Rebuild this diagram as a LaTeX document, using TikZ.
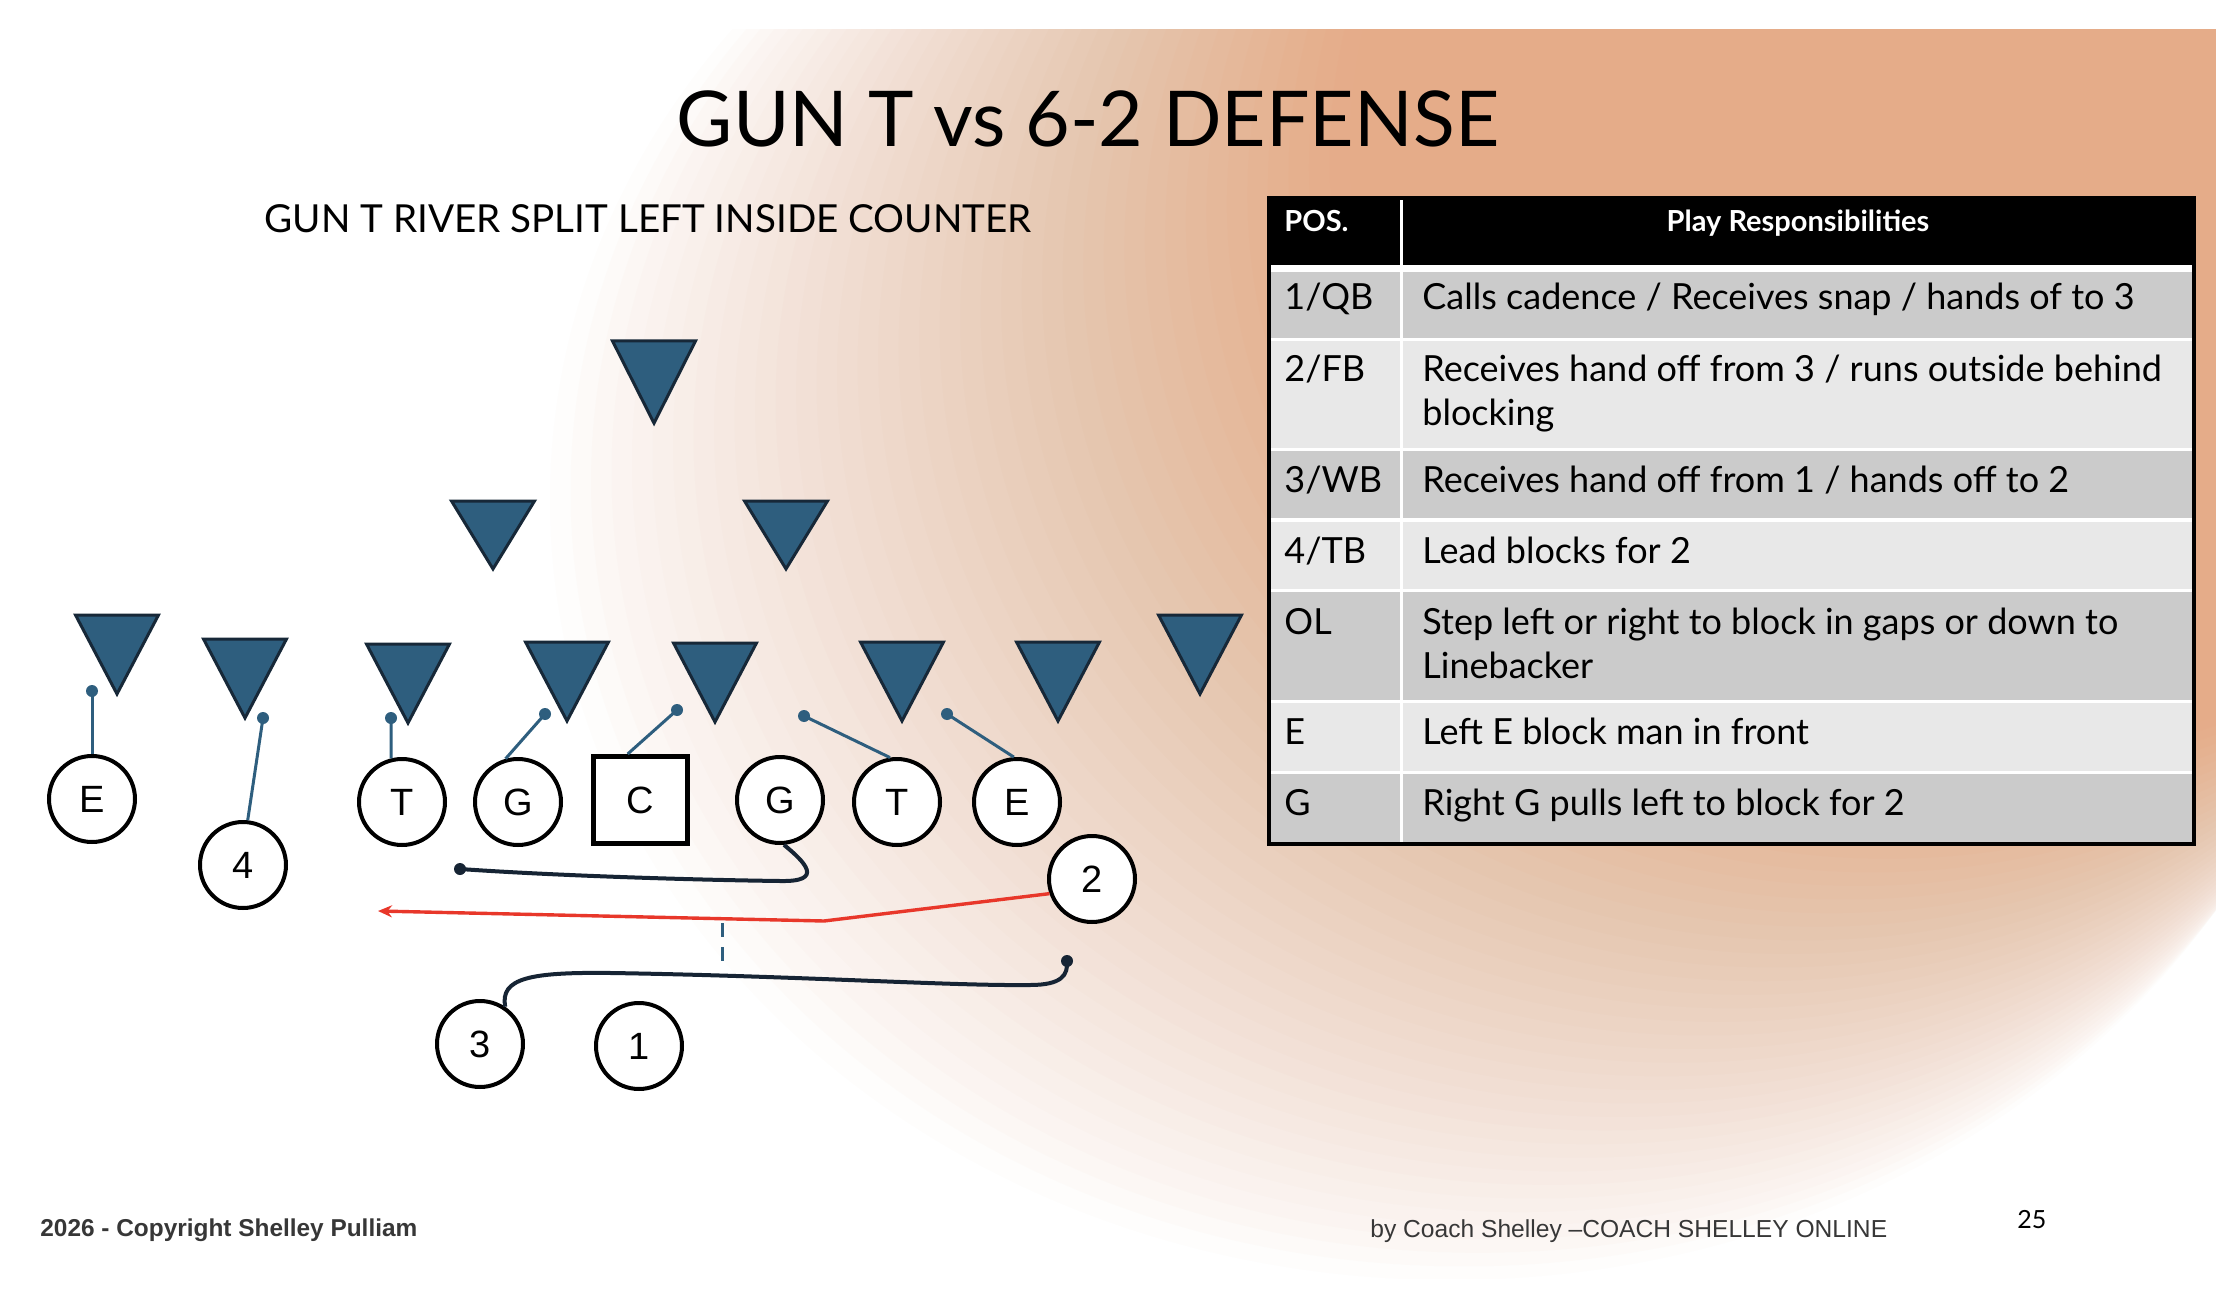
\documentclass[tikz,border=0pt]{standalone}
\usepackage{fontspec}
\setmainfont{Lato}
\newfontfamily\arialfont{Liberation Sans}
\usetikzlibrary{arrows.meta,calc}
\definecolor{peach}{RGB}{229,172,137}
\definecolor{defblue}{RGB}{46,94,126}
\definecolor{defedge}{RGB}{23,40,56}
\definecolor{navy}{RGB}{22,36,52}
\definecolor{playred}{RGB}{232,55,42}
\definecolor{rowdark}{RGB}{203,203,203}
\definecolor{rowlight}{RGB}{232,232,232}
\definecolor{foot}{RGB}{55,55,55}
\begin{document}
\begin{tikzpicture}[x=0.5pt,y=-0.5pt,
  player/.style={circle,draw=black,line width=2pt,fill=white,minimum size=43pt,inner sep=0pt,font=\arialfont\fontsize{19}{19}\selectfont},
  centersq/.style={rectangle,draw=black,line width=2.5pt,fill=white,minimum width=47pt,minimum height=43.5pt,inner sep=0pt,font=\arialfont\fontsize{19}{19}\selectfont},
  blockline/.style={draw=defblue,line width=1.5pt},
  pathline/.style={draw=navy,line width=2pt},
  redpath/.style={draw=playred,line width=1.7pt},
  defender/.pic={\filldraw[fill=defblue,draw=defedge,line width=1.5pt,line join=miter] (-41.5,0) -- (41.5,0) -- (0,79) -- cycle;},
  cell/.style={anchor=base west,inner sep=0pt,font=\fontsize{18}{20}\selectfont},
  headcell/.style={inner sep=0pt,text=white,font=\bfseries\fontsize{14.5}{16}\selectfont},
  foottext/.style={anchor=base west,inner sep=0pt,text=foot},
]
% background
\fill[white] (0,0) rectangle (2216,1294);
\useasboundingbox (0,0) rectangle (2216,1294);
\begin{scope}
\clip (0,30) rectangle (2216,1278);
\foreach \i in {1,...,40} {
  \pgfmathsetmacro\t{(\i-1)/39}
  \pgfmathsetmacro\cx{1450+550*\t}
  \pgfmathsetmacro\cy{500-350*\t}
  \pgfmathsetmacro\rx{900-250*\t}
  \pgfmathsetmacro\ry{780-180*\t}
  \pgfmathsetmacro\op{1/(41-\i)}
  \fill[peach, opacity=\op] (\cx,\cy) ellipse [x radius=\rx, y radius=\ry];
}
\end{scope}

% titles
\node[anchor=base,inner sep=0pt,font=\fontsize{38.5}{40}\selectfont] (title) at (1088,147) {GUN T vs 6-2 DEFENSE};
\node[anchor=base,inner sep=0pt,font=\fontsize{19.3}{21}\selectfont] (subtitle) at (648,233) {GUN T RIVER SPLIT LEFT INSIDE COUNTER};

% table
\fill[black] (1267,196) rectangle (2196,846);
\fill[white] (1271,265) rectangle (2192,842);
\fill[white] (1399.5,200) rectangle (1402.5,265);
\foreach \a/\b/\c in {272/338/rowdark, 341/448/rowlight, 451/518/rowdark, 522/589/rowlight, 592/700/rowdark, 703/771/rowlight, 774/842/rowdark} {
  \fill[\c] (1271,\a) rectangle (1399.5,\b);
  \fill[\c] (1402.5,\a) rectangle (2192,\b);
}
\node[headcell,anchor=base west] (hpos) at (1284,232) {POS.};
\node[headcell,anchor=base] (hresp) at (1798,232) {Play Responsibilities};
\node[cell] (c1a) at (1284,310) {1/QB};
\node[cell] (c1b) at (1422,310) {Calls cadence / Receives snap / hands of to 3};
\node[cell] (c2a) at (1284,381.5) {2/FB};
\node[cell] (c2b) at (1422,381.5) {Receives hand off from 3 / runs outside behind};
\node[cell] (c2c) at (1422,425.7) {blocking};
\node[cell] (c3a) at (1284,492) {3/WB};
\node[cell] (c3b) at (1422,492) {Receives hand off from 1 / hands off to 2};
\node[cell] (c4a) at (1284,563) {4/TB};
\node[cell] (c4b) at (1422,563) {Lead blocks for 2};
\node[cell] (c5a) at (1284,634) {OL};
\node[cell] (c5b) at (1422,634) {Step left or right to block in gaps or down to};
\node[cell] (c5c) at (1422,678) {Linebacker};
\node[cell] (c6a) at (1284,744) {E};
\node[cell] (c6b) at (1422,744) {Left E block man in front};
\node[cell] (c7a) at (1284,815) {G};
\node[cell] (c7b) at (1422,815) {Right G pulls left to block for 2};

% defenders
\pic[yscale=1.04] at (654,341) {defender};
\pic[yscale=0.86] at (493,501) {defender};
\pic[yscale=0.86] at (786,501) {defender};
\foreach \x/\y in {117/615, 245/639, 408/644, 567/642, 715/643, 902/642, 1058/642, 1200/615}
  \pic at (\x,\y) {defender};

% offense
\node[player] (pEL) at (92,799) {E};
\node[player] (p4) at (243,865) {4};
\node[player] (pTL) at (402,802) {T};
\node[player] (pGL) at (518,802) {G};
\node[centersq] (pC) at (640,800) {C};
\node[player] (pGR) at (780,800) {G};
\node[player] (pTR) at (897,802) {T};
\node[player] (pER) at (1017,802) {E};
\node[player] (p2) at (1092,879) {2};
\node[player] (p3) at (480,1044) {3};
\node[player] (p1) at (639,1046) {1};

% block lines
\coordinate (dEL) at (92,691);
\coordinate (d4) at (263,718);
\coordinate (dTL) at (391,718);
\coordinate (dGL) at (545,714);
\coordinate (dC) at (677,710);
\coordinate (dTR) at (804,716);
\coordinate (dER) at (947,714);
\draw[blockline] (pEL.north) -- (dEL);
\draw[blockline] (p4.84) -- (d4);
\draw[blockline] (pTL.104) -- (dTL);
\draw[blockline] (pGL.106) -- (dGL);
\draw[blockline] (pC.105) -- (dC);
\draw[blockline] (pTR.99) -- (dTR);
\draw[blockline] (pER.94) -- (dER);
\foreach \d in {dEL,d4,dTL,dGL,dC,dTR,dER}
  \fill[defblue] (\d) circle (6);

% pulling guard
\coordinate (gEnd) at (460,869);
\draw[pathline] (pGR.-85) .. controls (805,862) and (825,882) .. (780,881) .. controls (700,880) and (560,876) .. (gEnd);
\fill[navy] (gEnd) circle (6);

% handoff path of 3
\coordinate (hEnd) at (1067,961);
\draw[pathline] (p3.56) .. controls (500,978) and (530,972) .. (611,973) .. controls (800,976) and (950,986) .. (1030,985) .. controls (1062,985) and (1068,975) .. (hEnd);
\fill[navy] (hEnd) circle (6);

% ball carrier
\coordinate (rBend) at (824,921);
\coordinate (rTip) at (378,911);
\draw[redpath,-{Stealth[length=7pt,width=6pt]}] (p2.199) -- (rBend) -- (rTip);

% dashed mesh point
\coordinate (dsTop) at (722,923);
\coordinate (dsBot) at (722,961);
\draw[defblue,line width=1.5pt,dash pattern=on 7pt off 5pt] (dsTop) -- (dsBot);

% footer
\node[foottext,font=\arialfont\bfseries\fontsize{12.2}{13}\selectfont] (copy) at (40,1236) {2026 - Copyright Shelley Pulliam};
\node[foottext,font=\arialfont\fontsize{12.3}{13}\selectfont] (by) at (1370,1237) {by Coach Shelley –COACH SHELLEY ONLINE};
\node[anchor=base west,inner sep=0pt,font=\fontsize{12.5}{13}\selectfont] (page) at (2017,1228) {25};
\end{tikzpicture}
\end{document}
